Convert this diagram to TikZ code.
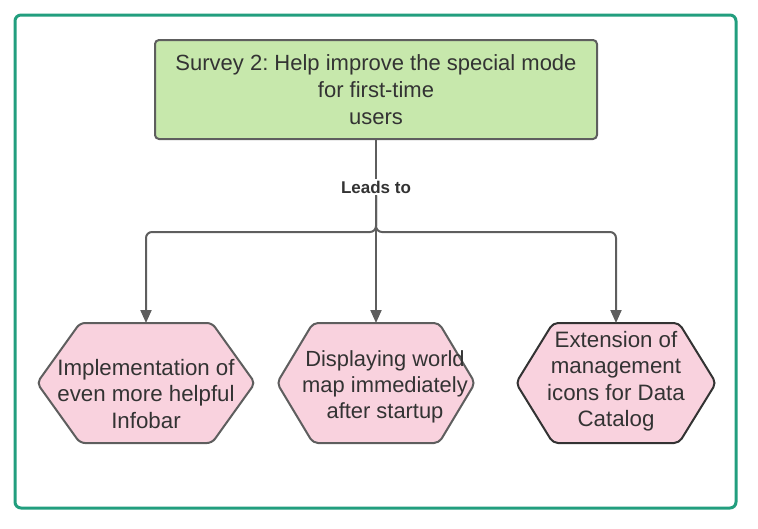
\documentclass[tikz,border=0pt]{standalone}
\usepackage{fontspec}
\setmainfont{Liberation Sans}
\frenchspacing
\usetikzlibrary{arrows.meta,calc}
\definecolor{frame}{HTML}{229E7E}
\definecolor{greenfill}{HTML}{C7E8AC}
\definecolor{pinkfill}{HTML}{F9D2DE}
\definecolor{edge}{HTML}{5E5E5E}
\definecolor{txt}{HTML}{333333}
\tikzset{
  topbox/.style={draw=edge, line width=2pt, fill=greenfill, rounded corners=4pt,
    minimum width=442pt, minimum height=99pt, align=center, text=txt,
    font=\fontsize{22}{27}\selectfont},
  hexbox/.style={align=center, text=txt, inner sep=0pt,
    font=\fontsize{22.3}{26.5}\selectfont},
  hexline/.style={line width=2pt, fill=pinkfill, rounded corners=5pt},
  conn/.style={draw=edge, line width=2pt, rounded corners=6pt},
  arr/.style={conn, -{Triangle[length=13pt,width=11pt]}},
}
\begin{document}
\begin{tikzpicture}[x=1pt,y=-1pt]
\useasboundingbox (0,0) rectangle (758,528);
\draw[frame, line width=3pt, rounded corners=6pt] (15,15) rectangle (736,508);
\node[topbox] (top) at (376,89.5) {Survey 2: Help improve the special mode\\for first-time\\users};
% hexagon frames
\coordinate (c1) at (146,383);
\coordinate (c2) at (376,383);
\coordinate (c3) at (616,383);
\coordinate (h1) at (146,323);
\coordinate (h2) at (376,323);
\coordinate (h3) at (616,323);
\draw[hexline, draw=edge] ($(c1)+(-109,0)$) -- ($(c1)+(-66,-60)$) -- ($(c1)+(66,-60)$) -- ($(c1)+(109,0)$) -- ($(c1)+(66,60)$) -- ($(c1)+(-66,60)$) -- cycle;
\draw[hexline, draw=edge] ($(c2)+(-99,0)$) -- ($(c2)+(-63,-60)$) -- ($(c2)+(63,-60)$) -- ($(c2)+(99,0)$) -- ($(c2)+(63,60)$) -- ($(c2)+(-63,60)$) -- cycle;
\draw[hexline, draw=txt] ($(c3)+(-100,0)$) -- ($(c3)+(-63,-60)$) -- ($(c3)+(63,-60)$) -- ($(c3)+(100,0)$) -- ($(c3)+(63,60)$) -- ($(c3)+(-63,60)$) -- cycle;
\node[hexbox] (t1) at (146,394) {Implementation of\\even more helpful\\Infobar};
\node[hexbox, font=\fontsize{21.9}{26}\selectfont] (t2) at (385,387) {Displaying world\\map immediately\\after startup};
\node[hexbox] (t3) at (616,381) {Extension of\\management\\icons for Data\\Catalog};
% connectors
\coordinate (j) at (376,232);
\node[fill=white, text=txt, font=\fontsize{17}{19}\selectfont\bfseries, inner sep=2pt] (lbl) at (376,187) {Leads to};
\draw[conn] (top.south) -- (lbl.north);
\draw[arr] (lbl.south) -- (j) -| (h1);
\draw[arr] (lbl.south) -- (h2);
\draw[arr] (lbl.south) -- (j) -| (h3);
\end{tikzpicture}
\end{document}
